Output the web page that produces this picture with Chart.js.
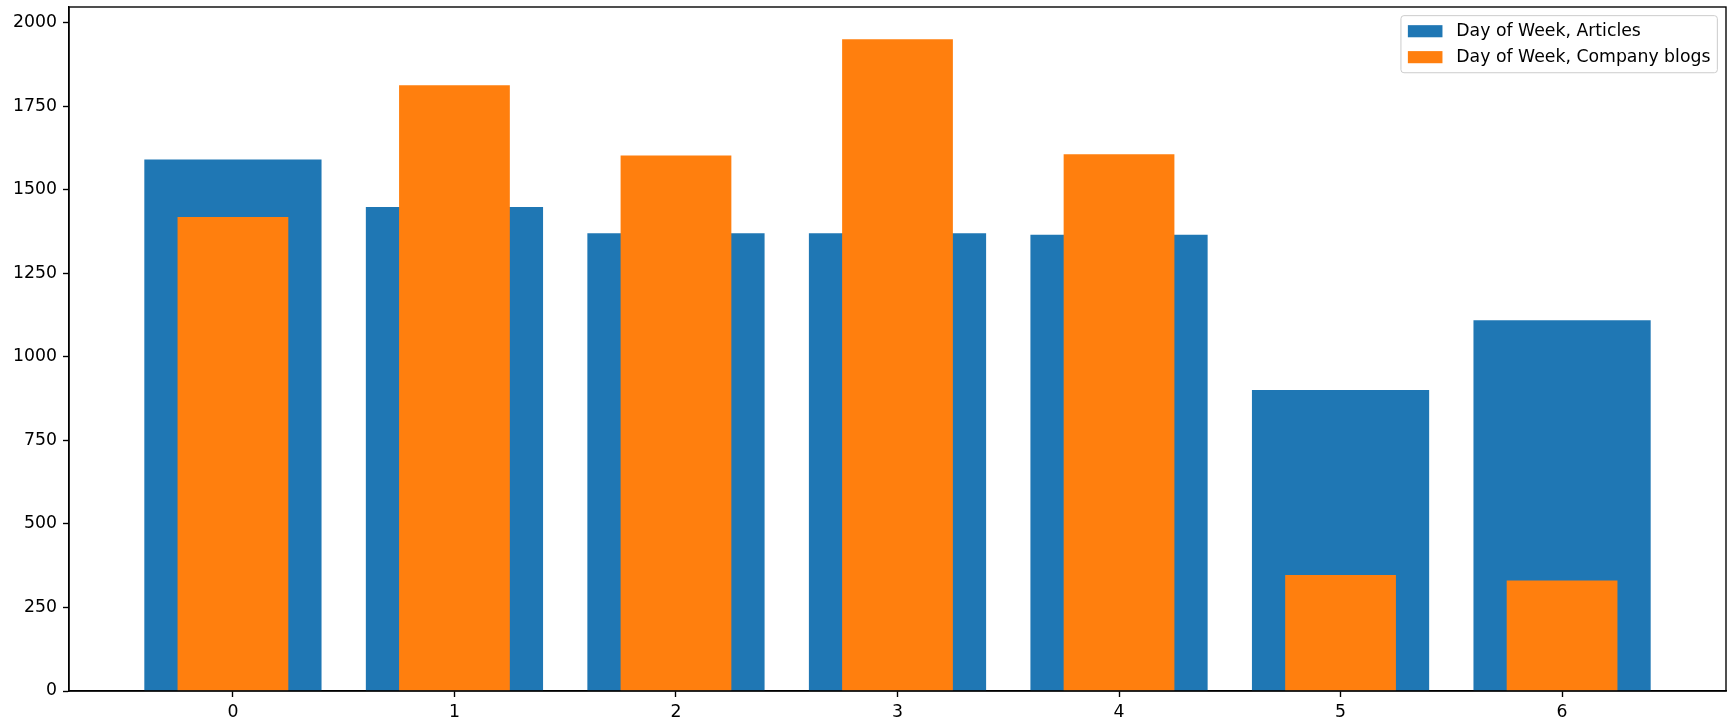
<!DOCTYPE html>
<html>
<head>
<meta charset="utf-8">
<script src="https://cdn.jsdelivr.net/npm/chart.js@4.4.1/dist/chart.umd.min.js"></script>
<style>
  html, body { margin: 0; padding: 0; background: #fff; }
  #wrap { width: 1734px; height: 722px; }
</style>
</head>
<body>
<div id="wrap"><canvas id="chart" width="1734" height="722"></canvas></div>
<script>
// values
const days = [0, 1, 2, 3, 4, 5, 6];
const articles = [1591, 1449, 1370, 1370, 1366, 901, 1110];
const companyBlogs = [1419, 1813, 1603, 1951, 1607, 347, 331];
const xTicks = [0, 1, 2, 3, 4, 5, 6];
const yTicks = [0, 250, 500, 750, 1000, 1250, 1500, 1750, 2000];
const seriesLabels = ["Day of Week, Articles", "Day of Week, Company blogs"];

const FONT = "DejaVu Sans";
const FS = 17.3; // 10pt at ~125 dpi

// matplotlib draws a full box round the axes
const frame = {
  id: "frame",
  afterDatasetsDraw(chart) {
    const { ctx, chartArea: a } = chart;
    ctx.save();
    ctx.strokeStyle = "#000";
    ctx.lineWidth = 1.38;
    ctx.strokeRect(a.left, a.top, a.right - a.left, a.bottom - a.top);
    ctx.restore();
  }
};

// legend box in the upper right corner, inside the axes
const legendBox = {
  id: "legendBox",
  afterDraw(chart) {
    const { ctx, chartArea: a } = chart;
    const ds = chart.data.datasets;
    ctx.save();
    ctx.font = FS + "px '" + FONT + "'";
    const pad = 0.4 * FS, hl = 2 * FS, htp = 0.8 * FS, sp = 0.5 * FS, rowH = FS, hh = 0.7 * FS;
    const tw = Math.max(...ds.map(d => ctx.measureText(d.label).width));
    const w = pad * 2 + hl + htp + tw;
    const h = pad * 2 + ds.length * rowH + (ds.length - 1) * sp;
    const x = a.right - 0.5 * FS - w;
    const y = a.top + 0.5 * FS;

    ctx.beginPath();
    ctx.roundRect(x, y, w, h, 3);
    ctx.fillStyle = "rgba(255,255,255,0.8)";
    ctx.fill();
    ctx.strokeStyle = "#cccccc";
    ctx.lineWidth = 1;
    ctx.stroke();

    ds.forEach((d, i) => {
      const cy = y + pad + i * (rowH + sp) + rowH / 2;
      ctx.fillStyle = d.backgroundColor;
      ctx.fillRect(x + pad, cy - hh / 2, hl, hh);
      ctx.fillStyle = "#000";
      ctx.textBaseline = "middle";
      ctx.textAlign = "left";
      ctx.fillText(d.label, x + pad + hl + htp, cy);
    });
    ctx.restore();
  }
};

// stop chart.js from reserving room for the end labels
function noEdgePad(s) {
  s.paddingTop = 0;
  s.paddingBottom = 0;
  s.paddingLeft = 0;
  s.paddingRight = 0;
}

const ctx = document.getElementById("chart").getContext("2d");

new Chart(ctx, {
  type: "bar",
  data: {
    datasets: [
      {
        label: seriesLabels[0],
        data: days.map((d, i) => ({ x: d, y: articles[i] })),
        backgroundColor: "#1f77b4",
        borderWidth: 0,
        grouped: false,
        barPercentage: 0.8,
        categoryPercentage: 1,
        order: 2
      },
      {
        label: seriesLabels[1],
        data: days.map((d, i) => ({ x: d, y: companyBlogs[i] })),
        backgroundColor: "#ff7f0e",
        borderWidth: 0,
        grouped: false,
        barPercentage: 0.5,
        categoryPercentage: 1,
        order: 1
      }
    ]
  },
  options: {
    responsive: false,
    devicePixelRatio: 1,
    animation: false,
    layout: { padding: { left: 0, top: 7, right: 8, bottom: 0 } },
    plugins: {
      legend: { display: false },
      tooltip: { enabled: false }
    },
    scales: {
      x: {
        type: "linear",
        min: -0.74,
        max: 6.74,
        offset: false,
        afterBuildTicks: s => { s.ticks = xTicks.map(v => ({ value: v })); },
        afterFit: s => { s.height = 31; noEdgePad(s); },
        grid: { display: true, offset: false, drawOnChartArea: false, drawTicks: true, tickLength: 6, tickWidth: 1.38, tickColor: "#000" },
        border: { display: true, color: "#000", width: 1.38 },
        ticks: {
          padding: 5,
          color: "#000",
          maxRotation: 0,
          autoSkip: false,
          font: { family: FONT, size: FS },
          callback: v => String(v)
        }
      },
      y: {
        min: 0,
        max: 2047.5,
        afterBuildTicks: s => { s.ticks = yTicks.map(v => ({ value: v })); },
        afterFit: s => { s.width = 69; noEdgePad(s); },
        grid: { display: true, drawOnChartArea: false, drawTicks: true, tickLength: 6, tickWidth: 1.38, tickColor: "#000" },
        border: { display: true, color: "#000", width: 1.38 },
        ticks: {
          padding: 6,
          color: "#000",
          font: { family: FONT, size: FS },
          callback: v => String(v)
        }
      }
    }
  },
  plugins: [frame, legendBox]
});
</script>
</body>
</html>
